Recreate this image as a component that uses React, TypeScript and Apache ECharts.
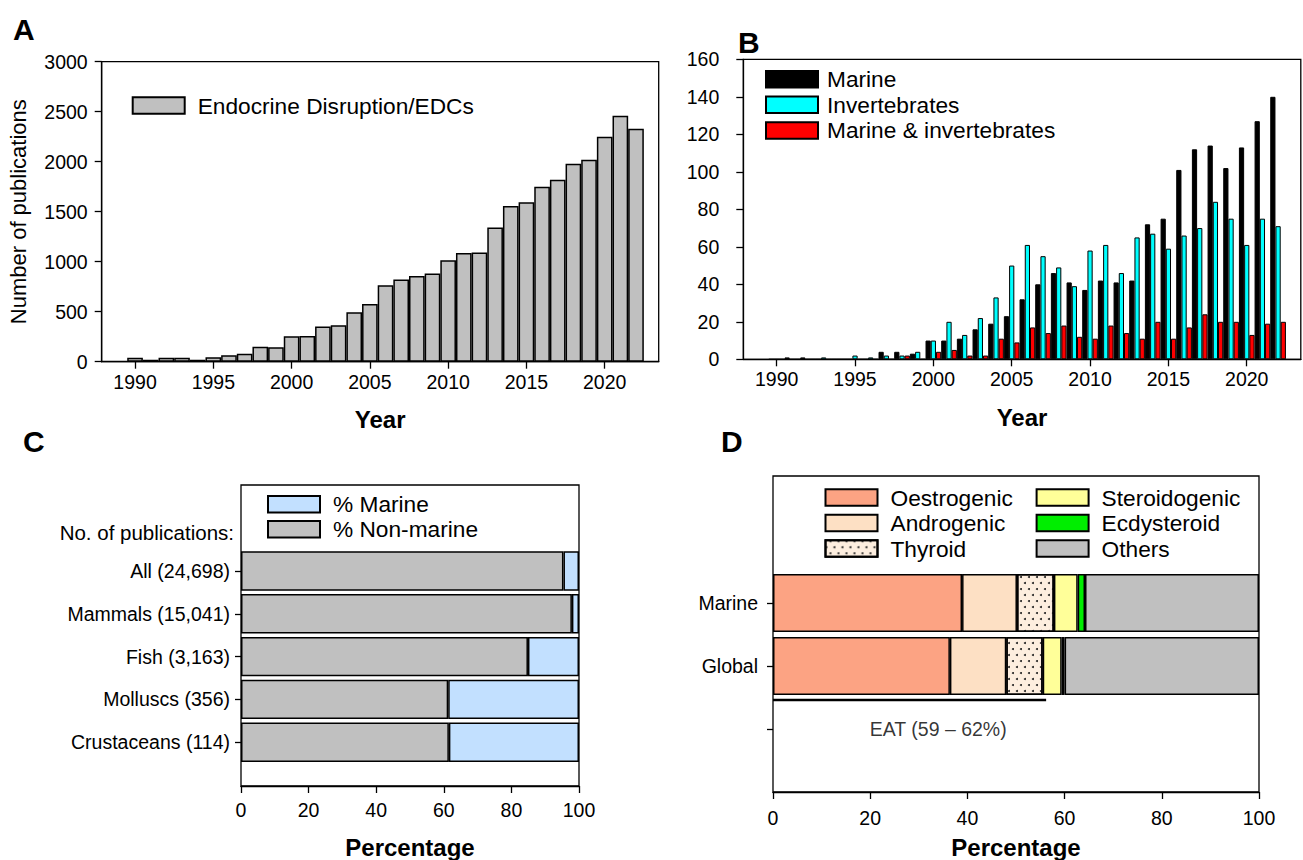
import React, { useEffect, useRef } from "react";
import * as echarts from "echarts";

// ---------- Panel A ----------
const yearsA = [1990, 1991, 1992, 1993, 1994, 1995, 1996, 1997, 1998, 1999, 2000, 2001, 2002, 2003, 2004, 2005, 2006, 2007, 2008, 2009, 2010, 2011, 2012, 2013, 2014, 2015, 2016, 2017, 2018, 2019, 2020, 2021, 2022];
const pubsA = [40, 20, 40, 40, 20, 45, 65, 80, 150, 145, 255, 258, 352, 365, 495, 578, 765, 822, 858, 882, 1015, 1088, 1093, 1343, 1558, 1595, 1750, 1820, 1980, 2020, 2250, 2460, 2330];
const yearTicks = [1990, 1995, 2000, 2005, 2010, 2015, 2020];

// ---------- Panel B ----------
const yearsB = yearsA;
const marineB = [0, 1, 1, 0, 0, 0, 0, 4, 4, 3, 10, 10, 11, 16, 19, 23, 32, 40, 46, 41, 37, 42, 41, 42, 72, 75, 101, 112, 114, 102, 113, 127, 140];
const invertB = [0, 0, 0, 1, 0, 2, 1, 2, 2, 4, 10, 20, 13, 22, 33, 50, 61, 55, 49, 39, 58, 61, 46, 65, 67, 59, 66, 70, 84, 75, 61, 75, 71];
const marInvB = [0, 0, 0, 0, 0, 0, 0, 0, 2, 0, 4, 5, 2, 2, 11, 9, 17, 14, 18, 12, 11, 18, 14, 11, 20, 11, 17, 24, 20, 20, 13, 19, 20];

// ---------- Panel C ----------
const catsC = ["Crustaceans (114)", "Molluscs (356)", "Fish (3,163)", "Mammals (15,041)", "All (24,698)"];
const nonMarineC = [61.5, 61.3, 84.9, 97.9, 95.4];
const marineC = [38.5, 38.7, 15.1, 2.1, 4.6];

// ---------- Panel D ----------
const catsD = ["", "Global", "Marine"];
const oestroD = [null, 36.4, 38.9];
const androD = [null, 11.6, 11.3];
const thyroidD = [null, 7.5, 7.6];
const steroidD = [null, 3.9, 4.9];
const ecdyD = [null, 0.6, 1.5];
const othersD = [null, 40.0, 35.8];
const eatRange = [0, 56.2];
const eatLevel = 1.456;
const eatLabel = "EAT (59 – 62%)";
const eatLabelPos = [34, 1.0];

const FONT = "'Liberation Sans', Arial, sans-serif";
const TICK = 19.5;
const LEG = 22.7;
const AXLINE = { lineStyle: { color: "#000", width: 1.3 }, onZero: false };
const TICKSTYLE = { lineStyle: { color: "#000", width: 1.3 } };
const noComma = (v: number) => String(v);

const legendBase = {
  orient: "vertical",
  itemWidth: 52,
  itemHeight: 16.5,
  itemGap: 2.5,
  padding: 0,
  icon: "rect",
  selectedMode: false,
  textStyle: { fontSize: LEG, fontFamily: FONT, color: "#000", padding: [0, 0, 0, 8] },
};

const border = { borderColor: "#000", borderWidth: 1.5 };
const letter = (t: string, left: number, top: number) => ({
  type: "text", left, top,
  style: { text: t, fontSize: 30, fontWeight: "bold", fontFamily: FONT, fill: "#000" },
});

export default function App() {
  const ref = useRef<HTMLDivElement>(null);
  useEffect(() => {
    const chart = echarts.init(ref.current!, null, { renderer: "svg" });
    const option: any = {
      animation: false,
      backgroundColor: "#fff",
      textStyle: { fontFamily: FONT, color: "#000" },
      grid: [
        { left: 101.7, top: 61.7, width: 557, height: 300, show: true, borderColor: "#000", borderWidth: 1.3 },
        { left: 743.3, top: 59.3, width: 557.5, height: 300, show: true, borderColor: "#000", borderWidth: 1.3 },
        { left: 241, top: 485, width: 338, height: 301, show: true, borderColor: "#000", borderWidth: 1.3 },
        { left: 241, top: 549.6, width: 338, height: 214 },
        { left: 773, top: 476, width: 486, height: 316, show: true, borderColor: "#000", borderWidth: 1.3 },
        { left: 773, top: 571.5, width: 486, height: 189 },
      ],
      xAxis: [
        {
          type: "value", gridIndex: 0, min: 1987.87, max: 2023.45,
          axisLine: AXLINE, splitLine: { show: false },
          axisTick: { ...TICKSTYLE, length: 7, customValues: yearTicks },
          axisLabel: { customValues: yearTicks, formatter: noComma, fontSize: TICK, color: "#000", margin: 10 },
          name: "Year", nameLocation: "middle", nameGap: 46,
          nameTextStyle: { fontSize: 24, fontWeight: "bold", color: "#000" },
        },
        {
          type: "value", gridIndex: 1, min: 1987.87, max: 2023.45,
          axisLine: AXLINE, splitLine: { show: false },
          axisTick: { ...TICKSTYLE, length: 7, customValues: yearTicks },
          axisLabel: { customValues: yearTicks, formatter: noComma, fontSize: TICK, color: "#000", margin: 10 },
          name: "Year", nameLocation: "middle", nameGap: 46,
          nameTextStyle: { fontSize: 24, fontWeight: "bold", color: "#000" },
        },
        {
          type: "value", gridIndex: 2, min: 0, max: 100, interval: 20,
          axisLine: AXLINE, splitLine: { show: false },
          axisTick: { ...TICKSTYLE, length: 7 },
          axisLabel: { fontSize: TICK, color: "#000", margin: 14 },
          name: "Percentage", nameLocation: "middle", nameGap: 49,
          nameTextStyle: { fontSize: 24, fontWeight: "bold", color: "#000" },
        },
        { type: "value", gridIndex: 3, min: 0, max: 100, show: false },
        {
          type: "value", gridIndex: 4, min: 0, max: 100, interval: 20,
          axisLine: AXLINE, splitLine: { show: false },
          axisTick: { ...TICKSTYLE, length: 7 },
          axisLabel: { fontSize: TICK, color: "#000", margin: 16 },
          name: "Percentage", nameLocation: "middle", nameGap: 43,
          nameTextStyle: { fontSize: 24, fontWeight: "bold", color: "#000" },
        },
        { type: "value", gridIndex: 5, min: 0, max: 100, show: false },
      ],
      yAxis: [
        {
          type: "value", gridIndex: 0, min: 0, max: 3000, interval: 500,
          axisLine: AXLINE, splitLine: { show: false },
          axisTick: { ...TICKSTYLE, length: 7 },
          axisLabel: { formatter: noComma, fontSize: TICK, color: "#000", margin: 14 },
          name: "Number of publications", nameLocation: "middle", nameGap: 72,
          nameTextStyle: { fontSize: 22, color: "#000" },
        },
        {
          type: "value", gridIndex: 1, min: 0, max: 160, interval: 20,
          axisLine: AXLINE, splitLine: { show: false },
          axisTick: { ...TICKSTYLE, length: 7 },
          axisLabel: { fontSize: TICK, color: "#000", margin: 24 },
        },
        { type: "value", gridIndex: 2, min: 0, max: 1, show: false },
        {
          type: "category", gridIndex: 3, data: catsC,
          axisLine: { show: false },
          axisTick: { show: true, alignWithLabel: true, length: 6, ...TICKSTYLE },
          axisLabel: { fontSize: TICK, color: "#000", margin: 11 },
        },
        { type: "value", gridIndex: 4, min: 0, max: 5, show: false },
        {
          type: "category", gridIndex: 5, data: catsD,
          axisLine: { show: false },
          axisTick: { show: true, alignWithLabel: true, length: 6, ...TICKSTYLE },
          axisLabel: { fontSize: TICK, color: "#000", margin: 15 },
        },
      ],
      legend: [
        { ...legendBase, left: 131.7, top: 94, data: ["Endocrine Disruption/EDCs"] },
        { ...legendBase, left: 765, top: 67.7, itemGap: 2.6, textStyle: { ...legendBase.textStyle, padding: [0, 0, 0, 4] }, data: ["Marine", "Invertebrates", "Marine & invertebrates"] },
        { ...legendBase, left: 267, top: 492.8, itemGap: 2, data: ["% Marine", "% Non-marine"] },
        { ...legendBase, left: 824.5, top: 486, data: ["Oestrogenic", "Androgenic", "Thyroid"] },
        { ...legendBase, left: 1035.6, top: 486, data: ["Steroidogenic", "Ecdysteroid", "Others"] },
      ],
      graphic: [
        letter("A", 13, 14),
        letter("B", 738, 27),
        letter("C", 23, 426),
        letter("D", 721, 426),
        {
          type: "text", x: 234, y: 532,
          style: { text: "No. of publications:", fontSize: 20.5, fontFamily: FONT, fill: "#000", textAlign: "right", textVerticalAlign: "middle" },
        },
      ],
      series: [
        {
          type: "bar", name: "Endocrine Disruption/EDCs", xAxisIndex: 0, yAxisIndex: 0,
          barCategoryGap: "0%",
          data: yearsA.map((y, i) => [y, pubsA[i]]),
          itemStyle: { color: "#c0c0c0", ...border },
        },
        {
          type: "bar", name: "Marine", xAxisIndex: 1, yAxisIndex: 1, barGap: "0%", barCategoryGap: "0%",
          data: yearsB.map((y, i) => [y, marineB[i]]),
          itemStyle: { color: "#000000", borderColor: "#000", borderWidth: 1 },
        },
        {
          type: "bar", name: "Invertebrates", xAxisIndex: 1, yAxisIndex: 1, barGap: "0%", barCategoryGap: "0%",
          data: yearsB.map((y, i) => [y, invertB[i]]),
          itemStyle: { color: "#00ffff", borderColor: "#000", borderWidth: 1 },
        },
        {
          type: "bar", name: "Marine & invertebrates", xAxisIndex: 1, yAxisIndex: 1, barGap: "0%", barCategoryGap: "0%",
          data: yearsB.map((y, i) => [y, marInvB[i]]),
          itemStyle: { color: "#ff0000", borderColor: "#000", borderWidth: 1 },
        },
        {
          type: "bar", name: "% Non-marine", xAxisIndex: 3, yAxisIndex: 3, stack: "c", barCategoryGap: "8%",
          data: nonMarineC, itemStyle: { color: "#c0c0c0", ...border },
        },
        {
          type: "bar", name: "% Marine", xAxisIndex: 3, yAxisIndex: 3, stack: "c", barCategoryGap: "8%",
          data: marineC, itemStyle: { color: "#c2e0ff", ...border },
        },
        {
          type: "bar", name: "Oestrogenic", xAxisIndex: 5, yAxisIndex: 5, stack: "d", barCategoryGap: "8%",
          data: oestroD, itemStyle: { color: "#fca383", ...border },
        },
        {
          type: "bar", name: "Androgenic", xAxisIndex: 5, yAxisIndex: 5, stack: "d", barCategoryGap: "8%",
          data: androD, itemStyle: { color: "#fde0c4", ...border },
        },
        {
          type: "bar", name: "Thyroid", xAxisIndex: 5, yAxisIndex: 5, stack: "d", barCategoryGap: "8%",
          data: thyroidD,
          itemStyle: {
            color: "#fdeedf", ...border,
            decal: { symbol: "circle", symbolSize: 1, dashArrayX: [[2, 6], [0, 4, 2, 2]], dashArrayY: [2, 4], color: "#222", rotation: 0 },
          },
        },
        {
          type: "bar", name: "Steroidogenic", xAxisIndex: 5, yAxisIndex: 5, stack: "d", barCategoryGap: "8%",
          data: steroidD, itemStyle: { color: "#ffff99", ...border },
        },
        {
          type: "bar", name: "Ecdysteroid", xAxisIndex: 5, yAxisIndex: 5, stack: "d", barCategoryGap: "8%",
          data: ecdyD, itemStyle: { color: "#00ee00", ...border },
        },
        {
          type: "bar", name: "Others", xAxisIndex: 5, yAxisIndex: 5, stack: "d", barCategoryGap: "8%",
          data: othersD, itemStyle: { color: "#c0c0c0", ...border },
        },
        {
          type: "line", name: "EAT", xAxisIndex: 4, yAxisIndex: 4, symbol: "none",
          data: eatRange.map((x) => [x, eatLevel]),
          lineStyle: { color: "#000", width: 2.6 },
        },
        {
          type: "scatter", name: "EAT label", xAxisIndex: 4, yAxisIndex: 4, symbolSize: 1,
          itemStyle: { color: "rgba(0,0,0,0)" },
          data: [eatLabelPos],
          label: { show: true, position: "inside", formatter: eatLabel, fontSize: TICK, color: "#000", fontFamily: FONT },
        },
      ],
    };
    chart.setOption(option);
    return () => chart.dispose();
  }, []);
  return (
    <div
      ref={ref}
      style={{ position: "fixed", left: 0, top: 0, width: 1303, height: 860, background: "#fff" }}
    />
  );
}
